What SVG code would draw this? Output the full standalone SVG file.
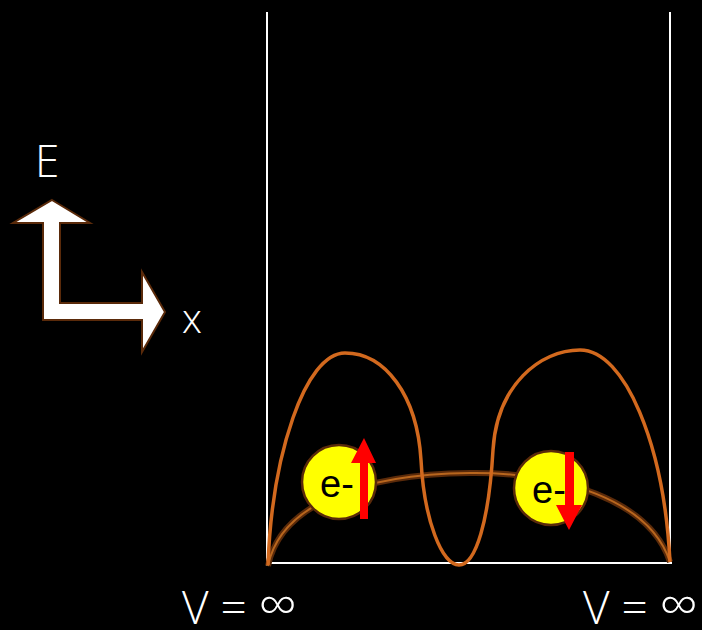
<svg xmlns="http://www.w3.org/2000/svg" width="702" height="630" viewBox="0 0 702 630">
<style>
.lbl{font-family:"Open Sans","Liberation Sans",sans-serif;fill:#fff;font-weight:300}
.el{fill:#ffff00;stroke:#5a2a0a;stroke-width:2.5}
.et{font-family:"Liberation Sans",Arial,sans-serif;font-size:38px;fill:#000}
.spin{fill:#ff0000}
.inf{font-size:54px}
</style>
<rect width="702" height="630" fill="#000"/>
<g id="well">
<line x1="267" y1="12" x2="267" y2="566" stroke="#fff" stroke-width="2"/>
<line x1="670" y1="12" x2="670" y2="564" stroke="#fff" stroke-width="2"/>
<line x1="270" y1="563" x2="672" y2="563" stroke="#fff" stroke-width="2"/>
</g>
<g id="axes">
<polygon points="52,200 90,223 60,223 60,303 142,303 142,272 165,312 142,352 142,320 43,320 43,223 13,223" fill="#fff" stroke="#5a2a0a" stroke-width="2"/>
<text class="lbl" x="35" y="177" font-size="44">E</text>
<text class="lbl" x="182" y="333" font-size="40">x</text>
</g>
<g id="connectors">
<path d="M268,566 C280,505 360,474 470,473 C560,472 650,500 670,562" fill="none" stroke="#5a2a0a" stroke-width="6"/>
<path d="M268,566 C280,505 360,474 470,473 C560,472 650,500 670,562" fill="none" stroke="#b8661e" stroke-width="2"/>
<path d="M268,565 C272,455 305,353 345,353 C385,353 417,395 421,460 C424,520 442,565 459,565 C476,565 489,520 493,450 C497,385 540,350 580,350 C625,350 664,445 670,562" fill="none" stroke="#d2691e" stroke-width="3.5"/>
</g>
<g id="electron-up">
<circle class="el" cx="339" cy="482" r="37"/>
<text class="et" x="320" y="497">e-</text>
<polygon class="spin" points="360,519 368,519 368,463 376,463 364,438 351,463 360,463"/>
</g>
<g id="electron-down">
<circle class="el" cx="551" cy="488" r="37"/>
<text class="et" x="532" y="503">e-</text>
<polygon class="spin" points="565,452 574,452 574,505 582,505 569,530 556,505 565,505"/>
</g>
<g id="labels">
<text class="lbl" x="182" y="624" font-size="46">V = <tspan class="inf">∞</tspan></text>
<text class="lbl" x="583" y="624" font-size="46">V = <tspan class="inf">∞</tspan></text>
</g>
</svg>
